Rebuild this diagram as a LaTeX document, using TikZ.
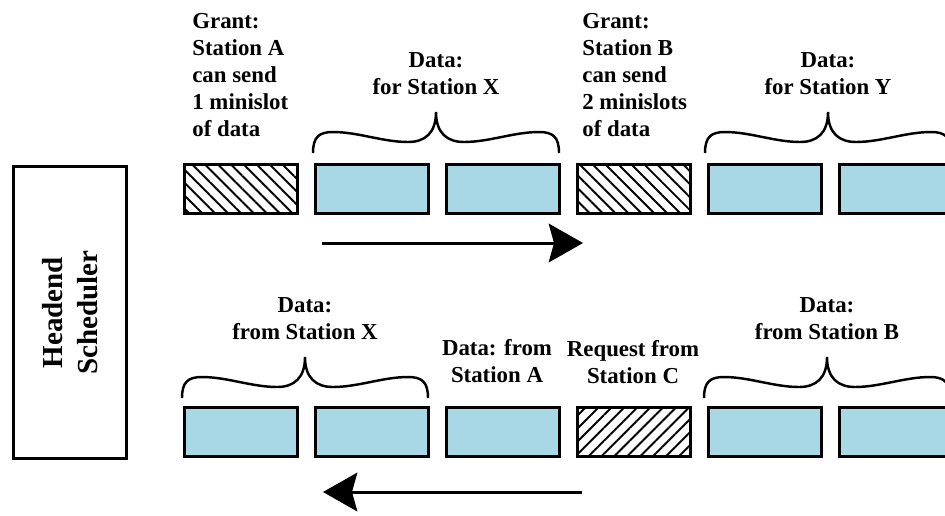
\documentclass[tikz,border=0pt]{standalone}
\usepackage{fontspec}
\setmainfont{Liberation Serif}
\usepackage{xcolor}
\usepackage{tikz}
\usetikzlibrary{positioning,calc,patterns.meta,arrows.meta}
\definecolor{slotblue}{RGB}{168,216,230}

\begin{document}
\begin{tikzpicture}[x=0.02cm, y=-0.02cm,
    slot/.style={draw, line width=1.8pt, minimum width=2.26cm, minimum height=0.98cm, inner sep=0},
    dataslot/.style={slot, fill=slotblue},
    grantslot/.style={slot, pattern={Lines[angle=-45,distance=5.2pt,line width=1.1pt]}},
    reqslot/.style={slot, pattern={Lines[angle=45,distance=5.2pt,line width=1.1pt]}},
    lbl/.style={font=\bfseries\fontsize{13}{15.3}\selectfont, inner sep=0, align=center},
    bracepen/.style={line width=1.4pt},
    flow/.style={line width=1.7pt, -{Stealth[length=19.5pt, width=22pt, inset=3pt]}},
    slotbrace/.pic={
        \draw[bracepen] (0,0) .. controls (0,-16) and (6,-21) .. (20,-21)
            .. controls (45,-21) and (70,-11) .. (95,-11)
            .. controls (112,-11) and (123,-20) .. (123,-41)
            .. controls (123,-20) and (134,-11) .. (151,-11)
            .. controls (176,-11) and (201,-21) .. (226,-21)
            .. controls (240,-21) and (246,-16) .. (246,0);
        \coordinate (-tip) at (123,-41);
    }]
    \useasboundingbox (0,0) rectangle (945,515);
    \clip (0,0) rectangle (945,515);

    % Headend
    \node[draw, line width=1.8pt, rotate=90, minimum width=5.84cm, minimum height=2.26cm,
          font=\bfseries\fontsize{16.5}{20}\selectfont, align=center] (sched) at (70,312.5) {Headend\\Scheduler};

    % Downstream
    \foreach \i/\s in {0/grantslot,1/dataslot,2/dataslot,3/grantslot,4/dataslot,5/dataslot}
        \node[\s] (t\i) at ({241+131*\i},189) {};
    \pic (bX) at (313,153) {slotbrace};
    \pic (bY) at (705,153) {slotbrace};
    \node[lbl, above=0.34cm of bX-tip] (forX) {Data:\\for Station X};
    \node[lbl, above=0.34cm of bY-tip] (forY) {Data:\\for Station Y};
    \node[lbl, align=left, anchor=south west] (grantA) at (192,137) {Grant:\\Station A\\can send\\1 minislot\\of data};
    \node[lbl, align=left, anchor=south west] (grantB) at (582,137) {Grant:\\Station B\\can send\\2 minislots\\of data};
    \coordinate (down0) at (322,243);
    \coordinate (down1) at (583,243);
    \draw[flow] (down0) -- (down1);

    % Upstream
    \foreach \i/\s in {0/dataslot,1/dataslot,2/dataslot,3/reqslot,4/dataslot,5/dataslot}
        \node[\s] (b\i) at ({241+131*\i},432) {};
    \pic (cX) at (182,398) {slotbrace};
    \pic (cB) at (704,398) {slotbrace};
    \node[lbl, above=0.34cm of cX-tip] (fromX) {Data:\\from Station X};
    \node[lbl, above=0.34cm of cB-tip] (fromB) {Data:\\from Station B};
    \node[lbl] (fromA) at (497,383) [anchor=south] {Data: from\\Station A};
    \node[lbl] (reqC) at (633,384) [anchor=south] {Request from\\Station C};
    \coordinate (up0) at (582,492);
    \coordinate (up1) at (323,492);
    \draw[flow] (up0) -- (up1);
\end{tikzpicture}
\end{document}
